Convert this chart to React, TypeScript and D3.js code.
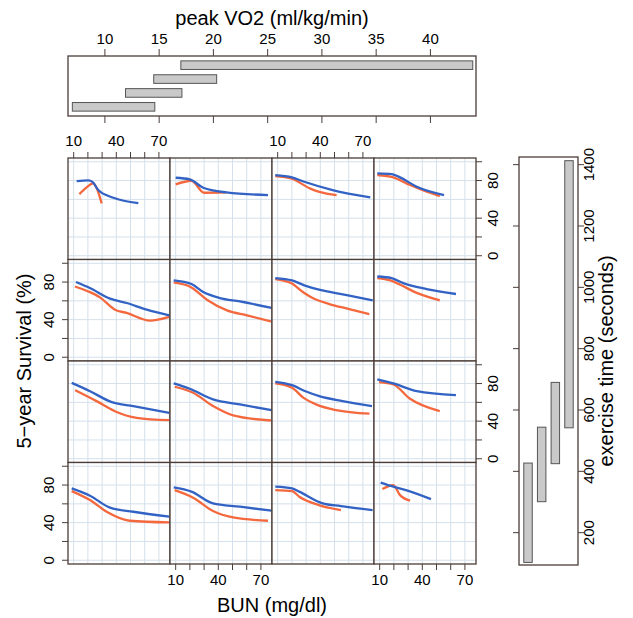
import React from "react";
import * as d3 from "d3";

// shingle intervals (given variables)
const vo2Intervals: [number, number][] = [[7.0, 14.6], [11.9, 17.1], [14.5, 20.3], [17.0, 43.9]];
const exerciseIntervals: [number, number][] = [[103, 427], [301, 544], [425, 690], [542, 1413]];

const vo2Ticks = [10, 15, 20, 25, 30, 35, 40];
const exerciseTicks = [200, 400, 600, 800, 1000, 1200, 1400];
const bunTicks = [10, 20, 30, 40, 50, 60, 70];
const bunLabels = [10, 40, 70];
const survivalTicks = [0, 20, 40, 60, 80, 100];
const survivalLabels = [0, 40, 80];

// [BUN, 5-year survival] per panel, row by row from the top-left panel
const blueCurves: [number, number][][] = [
  [[12.1, 79.5], [20.3, 80.2], [23.4, 78.4], [27.3, 69.9], [37.9, 61.7], [55.5, 56]],
  [[10, 83], [19.9, 81.3], [29.4, 72.3], [45.7, 67.4], [75, 64.6]],
  [[8.3, 85.8], [20, 83.4], [28.7, 78.7], [48.7, 69.9], [75.2, 62.1]],
  [[8.3, 87.7], [18.5, 86.9], [24.3, 83.4], [36.1, 73.4], [55.3, 64.6]],

  [[11.6, 80], [21.4, 73.6], [35.6, 62.3], [47.3, 57.7], [61.4, 50.6], [77.3, 44.6]],
  [[8.6, 81.7], [21.1, 77.9], [29.4, 69.4], [41.1, 63], [55.2, 59.4], [77.5, 52.4]],
  [[8.3, 84.2], [20.1, 81.7], [28.7, 76.5], [41.6, 71.1], [60.4, 65.5], [76.9, 60.5]],
  [[8.3, 85.9], [18.4, 84.2], [26.6, 78.9], [43.1, 72.6], [63.7, 67.3]],

  [[8.6, 80.7], [21.5, 71.9], [36.8, 60.2], [52, 56], [77.3, 48.9]],
  [[8.6, 80.1], [19.9, 74.5], [36.3, 63.1], [55.2, 57.8], [77.5, 51.7]],
  [[8.3, 81.9], [20.1, 78.3], [30, 71.5], [39.3, 66.6], [55.7, 61.3], [76.4, 56]],
  [[8.3, 84.4], [19.6, 80.1], [36.1, 71.9], [63.7, 67.7]],

  [[8.6, 76.5], [21.5, 68.7], [35.6, 55.9], [52, 51.6], [77.3, 46.3]],
  [[8.6, 77.5], [21.1, 73], [36.3, 60.5], [55.2, 57], [77.5, 52.7]],
  [[8.3, 78.3], [20.1, 76.5], [25.2, 73], [41.6, 60.5], [54.5, 57.6], [76.8, 53.3]],
  [[10.7, 82.6], [19.6, 78.3], [28.5, 74.7], [46.1, 65.1]],
];

const redCurves: [number, number][][] = [
  [[14, 65.6], [18.7, 72.3], [23.8, 77], [26.2, 71.7], [29.7, 55.7]],
  [[10, 76], [21.1, 79.8], [30, 67], [45.7, 67.4]],
  [[8.3, 84.8], [20, 82], [32.6, 71.7], [39.3, 68], [51.5, 64.6]],
  [[8.3, 85.9], [19.6, 83.4], [31.4, 75.2], [43.1, 68.1], [52.3, 63.5]],

  [[10.9, 75.3], [20.3, 70], [28.5, 63.7], [39.1, 50.6], [47.3, 47.1], [63.7, 38.9], [77.3, 42.9]],
  [[8.6, 79.6], [21.1, 74.3], [32, 61.2], [46.1, 49.9], [60.2, 44.6], [77.1, 38.2]],
  [[8.3, 83.2], [19.4, 78.9], [28.7, 68.3], [34.6, 63], [46.3, 56.6], [60.4, 51.3], [74.5, 46]],
  [[8.3, 84.2], [17.5, 81.7], [24.6, 77.1], [35.2, 69], [52.3, 60.5]],

  [[11, 73], [26.1, 61.3], [39, 50.6], [54.3, 43.6], [77.3, 41]],
  [[9.3, 76.6], [22.3, 70.2], [36.3, 56], [50.4, 46.1], [77.1, 40.7]],
  [[8.3, 80.1], [20.1, 75.5], [28, 65], [37, 57.8], [51.1, 51.7], [74.6, 47.9]],
  [[9.5, 81.5], [19.6, 79], [31.4, 63.8], [52.3, 50.6]],

  [[8.6, 73.6], [21.5, 64], [33.2, 51.6], [49.6, 42], [77.3, 40.2]],
  [[9.3, 74.7], [22.3, 66.6], [36.3, 52.3], [50.4, 45.5], [75, 42]],
  [[8.3, 74.7], [20.1, 73.6], [25.2, 67.6], [39, 58.7], [54.5, 53.3]],
  [[11.9, 75.7], [19.6, 80], [24.3, 69.3], [31.4, 63.4]],
];

const font = "'Liberation Sans', Arial, sans-serif";
const frame = "#4a3d39";
const gridColor = "#d4e0eb";
const blue = "#3262c4";
const red = "#f4683e";
const tickSize = 15;

const App = () => {
  const left = 68;
  const top = 158;
  const pw = 102;
  const ph = 101.5;

  const x = d3.scaleLinear().domain([6, 77.8]).range([0, pw]);
  const y = d3.scaleLinear().domain([-4, 104]).range([ph, 0]);
  const line = d3
    .line<[number, number]>()
    .x((d) => x(d[0]))
    .y((d) => y(d[1]))
    .curve(d3.curveMonotoneX);

  // given panels
  const vo2X = d3.scaleLinear().domain([6.6, 44.2]).range([left, left + 4 * pw]);
  const vo2Level = d3.scaleLinear().domain([0.34, 4.66]).range([116, 56]);
  const exY = d3.scaleLinear().domain([94.6, 1425]).range([565, 157]);
  const exLevel = d3.scaleLinear().domain([0.34, 4.66]).range([519, 578]);

  const panels = [];
  for (let r = 0; r < 4; r++) {
    for (let c = 0; c < 4; c++) {
      const i = r * 4 + c;
      panels.push(
        <g key={i} transform={`translate(${left + c * pw},${top + r * ph})`}>
          <rect width={pw} height={ph} fill="white" />
          {bunTicks.map((t) => (
            <line key={"v" + t} x1={x(t)} x2={x(t)} y1={0} y2={ph} stroke={gridColor} />
          ))}
          {survivalTicks.map((t) => (
            <line key={"h" + t} x1={0} x2={pw} y1={y(t)} y2={y(t)} stroke={gridColor} />
          ))}
          <path d={line(redCurves[i]) || ""} fill="none" stroke={red} strokeWidth={2.3} />
          <path d={line(blueCurves[i]) || ""} fill="none" stroke={blue} strokeWidth={2.3} />
          <rect width={pw} height={ph} fill="none" stroke={frame} strokeWidth={1.3} />
          {/* top axis on columns 1,3 */}
          {r === 0 && c % 2 === 0 &&
            bunTicks.map((t) => (
              <g key={"tt" + t}>
                <line x1={x(t)} x2={x(t)} y1={0} y2={-6} stroke={frame} />
                {bunLabels.includes(t) && (
                  <text x={x(t)} y={-12} textAnchor="middle" fontSize={tickSize} fontFamily={font}>
                    {t}
                  </text>
                )}
              </g>
            ))}
          {/* bottom axis on columns 2,4 */}
          {r === 3 && c % 2 === 1 &&
            bunTicks.map((t) => (
              <g key={"bt" + t}>
                <line x1={x(t)} x2={x(t)} y1={ph} y2={ph + 6} stroke={frame} />
                {bunLabels.includes(t) && (
                  <text x={x(t)} y={ph + 21} textAnchor="middle" fontSize={tickSize} fontFamily={font}>
                    {t}
                  </text>
                )}
              </g>
            ))}
          {/* left axis on rows 2,4 */}
          {c === 0 && r % 2 === 1 &&
            survivalTicks.map((t) => (
              <g key={"lt" + t}>
                <line x1={0} x2={-6} y1={y(t)} y2={y(t)} stroke={frame} />
                {survivalLabels.includes(t) && (
                  <text
                    transform={`translate(${-14},${y(t)}) rotate(-90)`}
                    textAnchor="middle"
                    fontSize={tickSize}
                    fontFamily={font}
                  >
                    {t}
                  </text>
                )}
              </g>
            ))}
          {/* right axis on rows 1,3 */}
          {c === 3 && r % 2 === 0 &&
            survivalTicks.map((t) => (
              <g key={"rt" + t}>
                <line x1={pw} x2={pw + 6} y1={y(t)} y2={y(t)} stroke={frame} />
                {survivalLabels.includes(t) && (
                  <text
                    transform={`translate(${pw + 22},${y(t)}) rotate(-90)`}
                    textAnchor="middle"
                    fontSize={tickSize}
                    fontFamily={font}
                  >
                    {t}
                  </text>
                )}
              </g>
            ))}
        </g>
      );
    }
  }

  return (
    <svg width={633} height={618} style={{ position: "absolute", left: 0, top: 0, background: "white" }}>
      {/* peak VO2 given panel */}
      <text x={272} y={25} textAnchor="middle" fontSize={20} fontFamily={font}>
        peak VO2 (ml/kg/min)
      </text>
      <rect x={left} y={56} width={4 * pw} height={60} fill="white" stroke={frame} strokeWidth={1.3} />
      {vo2Ticks.map((t) => (
        <g key={"vo" + t}>
          <line x1={vo2X(t)} x2={vo2X(t)} y1={56} y2={49} stroke={frame} />
          <line x1={vo2X(t)} x2={vo2X(t)} y1={116} y2={123} stroke={frame} />
          <text x={vo2X(t)} y={44} textAnchor="middle" fontSize={tickSize} fontFamily={font}>
            {t}
          </text>
        </g>
      ))}
      {vo2Intervals.map((d, i) => (
        <rect
          key={"vb" + i}
          x={vo2X(d[0])}
          y={vo2Level(i + 1.31)}
          width={vo2X(d[1]) - vo2X(d[0])}
          height={vo2Level(i + 0.69) - vo2Level(i + 1.31)}
          fill="#c9c9c9"
          stroke="#555"
        />
      ))}

      {panels}

      {/* exercise time given panel */}
      <rect x={519} y={157} width={59} height={408} fill="white" stroke={frame} strokeWidth={1.3} />
      {exerciseTicks.map((t) => (
        <g key={"ex" + t}>
          <line x1={519} x2={513} y1={exY(t)} y2={exY(t)} stroke={frame} />
          <line x1={578} x2={584} y1={exY(t)} y2={exY(t)} stroke={frame} />
          <text
            transform={`translate(${594},${exY(t)}) rotate(-90)`}
            textAnchor="middle"
            fontSize={tickSize}
            fontFamily={font}
          >
            {t}
          </text>
        </g>
      ))}
      {exerciseIntervals.map((d, i) => (
        <rect
          key={"eb" + i}
          x={exLevel(i + 0.69)}
          y={exY(d[1])}
          width={exLevel(i + 1.31) - exLevel(i + 0.69)}
          height={exY(d[0]) - exY(d[1])}
          fill="#c9c9c9"
          stroke="#555"
        />
      ))}
      <text
        transform={`translate(${613},${361}) rotate(-90)`}
        textAnchor="middle"
        fontSize={20}
        fontFamily={font}
      >
        exercise time (seconds)
      </text>

      <text
        transform={`translate(${31},${361}) rotate(-90)`}
        textAnchor="middle"
        fontSize={20}
        fontFamily={font}
      >
        5−year Survival (%)
      </text>
      <text x={272} y={612} textAnchor="middle" fontSize={20} fontFamily={font}>
        BUN (mg/dl)
      </text>
    </svg>
  );
};

export default App;
